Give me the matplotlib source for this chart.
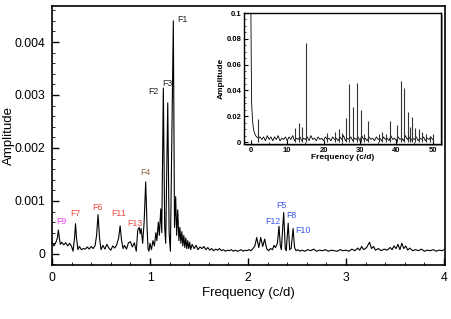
import numpy as np
import matplotlib
matplotlib.use("Agg")
import matplotlib.pyplot as plt
from matplotlib.patches import Rectangle
from matplotlib.ticker import MultipleLocator

plt.rcParams['font.family'] = ['Liberation Sans', 'DejaVu Sans']

# main spectrum: frequency (c/d) and amplitude (units of 1e-3)
freq = [0.00, 0.02, 0.04, 0.055, 0.065, 0.075, 0.085, 0.10, 0.12, 0.14, 0.16, 0.18, 0.20, 0.215,
        0.23, 0.24, 0.25, 0.265, 0.28, 0.30, 0.32, 0.34, 0.36, 0.38, 0.40, 0.42, 0.44, 0.455,
        0.47, 0.485, 0.50, 0.52, 0.54, 0.56, 0.58, 0.60, 0.62, 0.64, 0.66, 0.68, 0.695, 0.71,
        0.725, 0.74, 0.76, 0.78, 0.80, 0.82, 0.84, 0.86, 0.875, 0.89, 0.90, 0.91, 0.925, 0.94,
        0.956, 0.97, 0.98, 0.99, 1.00, 1.015, 1.03, 1.045, 1.06, 1.07, 1.085, 1.095, 1.11, 1.12,
        1.136, 1.15, 1.16, 1.181, 1.195, 1.208, 1.238, 1.25, 1.262, 1.272, 1.283, 1.295, 1.305,
        1.315, 1.325, 1.335, 1.345, 1.355, 1.365, 1.375, 1.385, 1.395, 1.405, 1.415, 1.43, 1.45,
        1.47, 1.49, 1.51, 1.53, 1.55, 1.57, 1.59, 1.61, 1.63, 1.65, 1.67, 1.69, 1.71, 1.73, 1.75,
        1.77, 1.79, 1.81, 1.83, 1.85, 1.87, 1.89, 1.91, 1.93, 1.95, 1.97, 1.99, 2.01, 2.03, 2.05,
        2.07, 2.089, 2.11, 2.13, 2.15, 2.17, 2.19, 2.21, 2.23, 2.25, 2.265, 2.28, 2.30, 2.316,
        2.33, 2.34, 2.364, 2.38, 2.39, 2.41, 2.425, 2.44, 2.46, 2.475, 2.49, 2.51, 2.53, 2.55,
        2.58, 2.61, 2.64, 2.67, 2.70, 2.73, 2.76, 2.79, 2.82, 2.85, 2.88, 2.91, 2.94, 2.97, 3.00,
        3.03, 3.06, 3.09, 3.12, 3.14, 3.16, 3.18, 3.21, 3.24, 3.26, 3.28, 3.30, 3.33, 3.36, 3.39,
        3.42, 3.45, 3.47, 3.49, 3.51, 3.53, 3.55, 3.57, 3.59, 3.61, 3.63, 3.65, 3.68, 3.71, 3.74,
        3.77, 3.80, 3.83, 3.86, 3.89, 3.92, 3.95, 3.98, 4.00]
amp = [0.22, 0.15, 0.22, 0.30, 0.45, 0.30, 0.18, 0.22, 0.17, 0.21, 0.15, 0.20, 0.14, 0.05,
       0.30, 0.57, 0.30, 0.08, 0.14, 0.08, 0.10, 0.09, 0.13, 0.09, 0.14, 0.10, 0.16, 0.35,
       0.74, 0.30, 0.08, 0.16, 0.09, 0.18, 0.11, 0.07, 0.15, 0.11, 0.17, 0.30, 0.53, 0.25,
       0.10, 0.16, 0.09, 0.21, 0.23, 0.13, 0.21, 0.05, 0.45, 0.50, 0.38, 0.48, 0.20, 0.60,
       1.36, 0.50, 0.10, 0.05, 0.20, 0.08, 0.25, 0.15, 0.40, 0.25, 0.60, 0.35, 0.85, 0.40,
       3.13, 0.50, 0.20, 2.85, 0.40, 0.05, 4.40, 0.50, 1.08, 0.35, 0.83, 0.25, 0.50,
       0.20, 0.42, 0.15, 0.35, 0.12, 0.30, 0.10, 0.25, 0.10, 0.22, 0.08, 0.18, 0.10,
       0.16, 0.08, 0.13, 0.10, 0.14, 0.08, 0.12, 0.07, 0.10, 0.06, 0.09, 0.07, 0.10, 0.06, 0.08,
       0.05, 0.07, 0.06, 0.08, 0.05, 0.07, 0.05, 0.06, 0.08, 0.05, 0.07, 0.06, 0.08, 0.06, 0.10,
       0.15, 0.31, 0.12, 0.31, 0.14, 0.28, 0.10, 0.06, 0.10, 0.08, 0.16, 0.12, 0.20, 0.52,
       0.15, 0.08, 0.78, 0.10, 0.06, 0.58, 0.08, 0.10, 0.48, 0.12, 0.06, 0.08, 0.05, 0.07,
       0.05, 0.08, 0.06, 0.09, 0.05, 0.07, 0.06, 0.08, 0.05, 0.07, 0.06, 0.05, 0.08, 0.06, 0.07,
       0.05, 0.09, 0.06, 0.11, 0.07, 0.14, 0.08, 0.12, 0.22, 0.10, 0.14, 0.07, 0.10, 0.06, 0.09,
       0.07, 0.12, 0.08, 0.15, 0.10, 0.18, 0.08, 0.20, 0.10, 0.15, 0.07, 0.11, 0.06, 0.08, 0.06,
       0.09, 0.05, 0.07, 0.06, 0.08, 0.05, 0.07, 0.06, 0.08]

# identified frequencies: label, x, y (amplitude units 1e-3), colour
peak_names = ['F1', 'F2', 'F3', 'F4', 'F5', 'F6', 'F7', 'F8', 'F9', 'F10', 'F11', 'F12', 'F13']
label_x = [1.327, 1.03, 1.175, 0.95, 2.34, 0.46, 0.235, 2.44, 0.094, 2.56, 0.68, 2.25, 0.85]
label_y = [4.42, 3.06, 3.22, 1.53, 0.91, 0.87, 0.77, 0.72, 0.62, 0.45, 0.77, 0.62, 0.57]
label_c = ['#222222', '#222222', '#222222', '#8c6a4a', '#3a55ee', '#f04a3a', '#f04a3a',
           '#3a55ee', '#ee44ee', '#3a55ee', '#f04a3a', '#3a55ee', '#f04a3a']

# inset: wide-range spectrum, 0-50 c/d
inset_peak_f = [2.0, 12.1, 13.1, 14.1, 15.1, 21.0, 23.0, 24.1, 25.1, 26.2, 27.1, 28.2, 29.2,
                30.2, 31.2, 32.2, 35.2, 36.2, 37.2, 38.2, 40.2, 41.2, 42.2, 43.2, 43.8, 44.2,
                45.2, 46.2, 47.2, 48.2, 49.2, 50.2]
inset_peak_a = [0.018, 0.011, 0.015, 0.012, 0.0766, 0.007, 0.008, 0.010, 0.007, 0.019, 0.045,
                0.027, 0.046, 0.025, 0.0065, 0.016, 0.006, 0.008, 0.006, 0.016, 0.013, 0.0475,
                0.042, 0.023, 0.012, 0.0195, 0.011, 0.010, 0.008, 0.006, 0.005, 0.006]
inset_noise_f = [0.0, 0.1, 0.2, 0.35, 0.5, 0.7, 1.0, 1.3, 1.6, 2.0, 2.5, 3.0, 3.5, 4.0, 4.5, 5.0,
                 5.5, 6.0, 6.5, 7.0, 7.5, 8.0, 8.5, 9.0, 9.5, 10.0, 10.5, 11.0, 11.5, 12.0, 12.5,
                 13.0, 13.5, 14.0, 14.5, 15.0, 15.5, 16.0, 16.5, 17.0, 17.5, 18.0, 18.5, 19.0,
                 19.5, 20.0, 20.5, 21.0, 21.5, 22.0, 22.5, 23.0, 23.5, 24.0, 24.5, 25.0, 25.5,
                 26.0, 26.5, 27.0, 27.5, 28.0, 28.5, 29.0, 29.5, 30.0, 30.5, 31.0, 31.5, 32.0,
                 32.5, 33.0, 33.5, 34.0, 34.5, 35.0, 35.5, 36.0, 36.5, 37.0, 37.5, 38.0, 38.5,
                 39.0, 39.5, 40.0, 40.5, 41.0, 41.5, 42.0, 42.5, 43.0, 43.5, 44.0, 44.5, 45.0,
                 45.5, 46.0, 46.5, 47.0, 47.5, 48.0, 48.5, 49.0, 49.5, 50.0]
inset_noise_a = [0.100, 0.060, 0.030, 0.022, 0.015, 0.010, 0.007, 0.005, 0.004, 0.003, 0.004,
                 0.002, 0.004, 0.001, 0.005, 0.002, 0.004, 0.001, 0.004, 0.002, 0.005, 0.001,
                 0.003, 0.002, 0.004, 0.001, 0.004, 0.002, 0.005, 0.001, 0.003, 0.002, 0.004,
                 0.001, 0.003, 0.002, 0.004, 0.001, 0.005, 0.002, 0.003, 0.001, 0.004, 0.002,
                 0.003, 0.001, 0.004, 0.002, 0.003, 0.001, 0.004, 0.002, 0.003, 0.001, 0.004,
                 0.002, 0.005, 0.001, 0.003, 0.002, 0.004, 0.001, 0.003, 0.002, 0.004, 0.001,
                 0.005, 0.002, 0.003, 0.001, 0.004, 0.002, 0.003, 0.001, 0.004, 0.002, 0.003,
                 0.001, 0.004, 0.002, 0.003, 0.001, 0.005, 0.002, 0.003, 0.001, 0.004, 0.002,
                 0.003, 0.001, 0.005, 0.002, 0.004, 0.001, 0.003, 0.002, 0.004, 0.001, 0.003,
                 0.002, 0.004, 0.001, 0.003, 0.002, 0.004, 0.002]

fig = plt.figure(figsize=(4.52, 3.19), dpi=100)
ax = fig.add_axes([52 / 452, 1 - 265 / 319, 393 / 452, 259 / 319])

ax.plot(freq, np.array(amp) * 1e-3, color='black', lw=0.8)
for name, x, y, c in zip(peak_names, label_x, label_y, label_c):
    ax.text(x, y * 1e-3, name, color=c, fontsize=6.3, ha='center', va='center')

ax.set_xlim(0, 4.01)
ax.set_ylim(-0.00021, 0.00468)
ax.xaxis.set_major_locator(MultipleLocator(1))
ax.xaxis.set_minor_locator(MultipleLocator(0.2))
ax.yaxis.set_major_locator(MultipleLocator(0.001))
ax.yaxis.set_minor_locator(MultipleLocator(0.0002))
ax.yaxis.set_major_formatter(plt.FuncFormatter(lambda v, p: '0' if abs(v) < 1e-9 else '%.3f' % v))
ax.tick_params(which='both', direction='in', top=False, right=False, labelsize=8.7)
ax.tick_params(which='major', length=5, width=1, pad=5)
ax.tick_params(which='minor', length=2.5, width=0.6)
for s in ax.spines.values():
    s.set_linewidth(1.2)
ax.set_xlabel('Frequency (c/d)', fontsize=9.5)
ax.set_ylabel('Amplitude', fontsize=9.5)
ax.xaxis.set_label_coords(0.5, -0.085)
ax.yaxis.set_label_coords(-0.094, 0.5)

# inset with shadow
ix0, iy0, iw, ih = 244 / 452, 1 - 144 / 319, 197 / 452, 131 / 319
fig.patches.append(Rectangle((ix0 + 2 / 452, iy0 - 2 / 319), iw, ih, transform=fig.transFigure,
                             facecolor='#999999', edgecolor='none', zorder=2))
ins = fig.add_axes([ix0, iy0, iw, ih], zorder=3)
ins.plot(inset_noise_f, inset_noise_a, color='black', lw=0.6)
ins.vlines(inset_peak_f, 0, inset_peak_a, color='#333333', lw=0.8)
ins.set_xlim(-1.9, 52.3)
ins.set_ylim(-0.0015, 0.1)
ins.xaxis.set_major_locator(MultipleLocator(10))
ins.xaxis.set_minor_locator(MultipleLocator(5))
ins.yaxis.set_major_locator(MultipleLocator(0.02))
ins.yaxis.set_minor_locator(MultipleLocator(0.005))
ins.yaxis.set_major_formatter(plt.FuncFormatter(lambda v, p: '0' if abs(v) < 1e-9 else ('%g' % v)))
ins.tick_params(which='both', direction='in', top=False, right=False, labelsize=5.5, pad=2)
ins.tick_params(which='major', length=3, width=0.8)
ins.tick_params(which='minor', length=1.5, width=0.5)
for t in ins.get_xticklabels() + ins.get_yticklabels():
    t.set_fontweight('bold')
for s in ins.spines.values():
    s.set_linewidth(1.0)
ins.set_xlabel('Frequency (c/d)', fontsize=6, fontweight='bold', labelpad=0)
ins.set_ylabel('Amplitude', fontsize=6, fontweight='bold', labelpad=1)

fig.savefig('out.png', dpi=100)
